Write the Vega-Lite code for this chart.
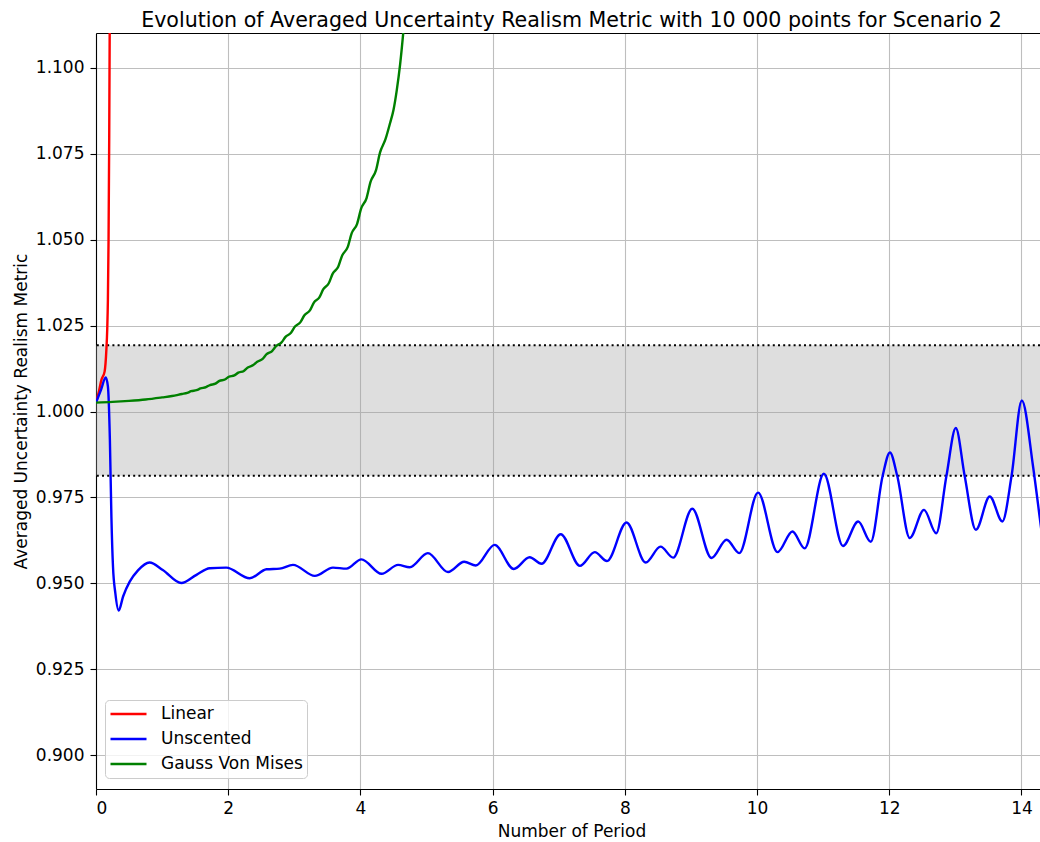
{
  "$schema": "https://vega.github.io/schema/vega-lite/v6.json",
  "width": 944,
  "height": 756,
  "autosize": {"type": "none"},
  "padding": {"left": 96, "top": 33, "right": 0, "bottom": 53},
  "background": "white",
  "config": {
    "font": "DejaVu Sans",
    "view": {"stroke": null},
    "axis": {
      "labelFont": "DejaVu Sans", "labelFontSize": 17, "labelColor": "black",
      "titleFont": "DejaVu Sans", "titleFontSize": 17, "titleFontWeight": "normal", "titleColor": "black",
      "domainColor": "black", "domainWidth": 1.1,
      "tickColor": "black", "tickWidth": 1.1, "tickSize": 6,
      "gridColor": "#bebebe", "gridWidth": 1.1, "gridOpacity": 1
    },
    "legend": {"labelFont": "DejaVu Sans"}
  },
  "title": {
    "text": "Evolution of Averaged Uncertainty Realism Metric with 10 000 points for Scenario 2",
    "font": "DejaVu Sans", "fontSize": 20.6, "fontWeight": "normal", "color": "black",
    "anchor": "middle", "baseline": "alphabetic", "offset": 9, "dx": 3.5, "dy": 24
  },
  "datasets": {
    "band": [{"lo": 0.9813, "hi": 1.0193}],
    "curves": [
      {"s": "Linear", "t": 0, "v": 1.0026},
      {"s": "Linear", "t": 0.04, "v": 1.0055},
      {"s": "Linear", "t": 0.082, "v": 1.0092},
      {"s": "Linear", "t": 0.13, "v": 1.0116},
      {"s": "Linear", "t": 0.157, "v": 1.018},
      {"s": "Linear", "t": 0.17, "v": 1.024},
      {"s": "Linear", "t": 0.18, "v": 1.0325},
      {"s": "Linear", "t": 0.19, "v": 1.05},
      {"s": "Linear", "t": 0.2, "v": 1.08},
      {"s": "Linear", "t": 0.207, "v": 1.11},
      {"s": "Linear", "t": 0.215, "v": 1.15},

      {"s": "Unscented", "t": 0, "v": 1.0026},
      {"s": "Unscented", "t": 0.076, "v": 1.0063},
      {"s": "Unscented", "t": 0.147, "v": 1.0099},
      {"s": "Unscented", "t": 0.18, "v": 1.0073},
      {"s": "Unscented", "t": 0.21, "v": 0.9918},
      {"s": "Unscented", "t": 0.233, "v": 0.9694},
      {"s": "Unscented", "t": 0.257, "v": 0.9549},
      {"s": "Unscented", "t": 0.293, "v": 0.9471},
      {"s": "Unscented", "t": 0.343, "v": 0.9421},
      {"s": "Unscented", "t": 0.41, "v": 0.9462},
      {"s": "Unscented", "t": 0.51, "v": 0.9505},
      {"s": "Unscented", "t": 0.635, "v": 0.9538},
      {"s": "Unscented", "t": 0.81, "v": 0.9561},
      {"s": "Unscented", "t": 1.01, "v": 0.9539},
      {"s": "Unscented", "t": 1.29, "v": 0.9501},
      {"s": "Unscented", "t": 1.52, "v": 0.9525},
      {"s": "Unscented", "t": 1.72, "v": 0.9544},
      {"s": "Unscented", "t": 1.97, "v": 0.9546},
      {"s": "Unscented", "t": 2.325, "v": 0.9515},
      {"s": "Unscented", "t": 2.58, "v": 0.9541},
      {"s": "Unscented", "t": 2.78, "v": 0.9543},
      {"s": "Unscented", "t": 2.98, "v": 0.9554},
      {"s": "Unscented", "t": 3.31, "v": 0.9522},
      {"s": "Unscented", "t": 3.585, "v": 0.9546},
      {"s": "Unscented", "t": 3.79, "v": 0.9543},
      {"s": "Unscented", "t": 4.015, "v": 0.957},
      {"s": "Unscented", "t": 4.32, "v": 0.9528},
      {"s": "Unscented", "t": 4.57, "v": 0.9554},
      {"s": "Unscented", "t": 4.745, "v": 0.9547},
      {"s": "Unscented", "t": 5.02, "v": 0.9588},
      {"s": "Unscented", "t": 5.325, "v": 0.9533},
      {"s": "Unscented", "t": 5.57, "v": 0.9563},
      {"s": "Unscented", "t": 5.745, "v": 0.9552},
      {"s": "Unscented", "t": 6.03, "v": 0.9612},
      {"s": "Unscented", "t": 6.32, "v": 0.9542},
      {"s": "Unscented", "t": 6.56, "v": 0.9576},
      {"s": "Unscented", "t": 6.74, "v": 0.9557},
      {"s": "Unscented", "t": 7.03, "v": 0.9643},
      {"s": "Unscented", "t": 7.32, "v": 0.9551},
      {"s": "Unscented", "t": 7.545, "v": 0.9591},
      {"s": "Unscented", "t": 7.73, "v": 0.9565},
      {"s": "Unscented", "t": 8.025, "v": 0.9677},
      {"s": "Unscented", "t": 8.315, "v": 0.9561},
      {"s": "Unscented", "t": 8.54, "v": 0.9607},
      {"s": "Unscented", "t": 8.73, "v": 0.9575},
      {"s": "Unscented", "t": 9.02, "v": 0.9717},
      {"s": "Unscented", "t": 9.31, "v": 0.9574},
      {"s": "Unscented", "t": 9.54, "v": 0.9627},
      {"s": "Unscented", "t": 9.73, "v": 0.9588},
      {"s": "Unscented", "t": 10.015, "v": 0.9764},
      {"s": "Unscented", "t": 10.31, "v": 0.9591},
      {"s": "Unscented", "t": 10.535, "v": 0.9651},
      {"s": "Unscented", "t": 10.72, "v": 0.9602},
      {"s": "Unscented", "t": 11.01, "v": 0.9819},
      {"s": "Unscented", "t": 11.3, "v": 0.9609},
      {"s": "Unscented", "t": 11.53, "v": 0.968},
      {"s": "Unscented", "t": 11.72, "v": 0.9621},
      {"s": "Unscented", "t": 11.9, "v": 0.9813},
      {"s": "Unscented", "t": 12.01, "v": 0.9881},
      {"s": "Unscented", "t": 12.12, "v": 0.9813},
      {"s": "Unscented", "t": 12.31, "v": 0.9632},
      {"s": "Unscented", "t": 12.525, "v": 0.9714},
      {"s": "Unscented", "t": 12.71, "v": 0.9646},
      {"s": "Unscented", "t": 12.865, "v": 0.9813},
      {"s": "Unscented", "t": 13.006, "v": 0.9952},
      {"s": "Unscented", "t": 13.14, "v": 0.9813},
      {"s": "Unscented", "t": 13.31, "v": 0.9656},
      {"s": "Unscented", "t": 13.52, "v": 0.9753},
      {"s": "Unscented", "t": 13.71, "v": 0.968},
      {"s": "Unscented", "t": 13.85, "v": 0.9813},
      {"s": "Unscented", "t": 14.005, "v": 1.0032},
      {"s": "Unscented", "t": 14.175, "v": 0.984},
      {"s": "Unscented", "t": 14.277, "v": 0.969},
      {"s": "Unscented", "t": 14.35, "v": 0.958},

      {"s": "Gauss Von Mises", "t": 0, "v": 1.0026},
      {"s": "Gauss Von Mises", "t": 0.25, "v": 1.0028},
      {"s": "Gauss Von Mises", "t": 0.5, "v": 1.0031},
      {"s": "Gauss Von Mises", "t": 0.75, "v": 1.0035},
      {"s": "Gauss Von Mises", "t": 1.0, "v": 1.0041},
      {"s": "Gauss Von Mises", "t": 1.15, "v": 1.0045},
      {"s": "Gauss Von Mises", "t": 1.3, "v": 1.0051},
      {"s": "Gauss Von Mises", "t": 1.38, "v": 1.0054},
      {"s": "Gauss Von Mises", "t": 1.439, "v": 1.0059},
      {"s": "Gauss Von Mises", "t": 1.521, "v": 1.0062},
      {"s": "Gauss Von Mises", "t": 1.581, "v": 1.0067},
      {"s": "Gauss Von Mises", "t": 1.664, "v": 1.0071},
      {"s": "Gauss Von Mises", "t": 1.724, "v": 1.0077},
      {"s": "Gauss Von Mises", "t": 1.807, "v": 1.0081},
      {"s": "Gauss Von Mises", "t": 1.867, "v": 1.0089},
      {"s": "Gauss Von Mises", "t": 1.95, "v": 1.0093},
      {"s": "Gauss Von Mises", "t": 2.01, "v": 1.0101},
      {"s": "Gauss Von Mises", "t": 2.093, "v": 1.0105},
      {"s": "Gauss Von Mises", "t": 2.153, "v": 1.0113},
      {"s": "Gauss Von Mises", "t": 2.236, "v": 1.0118},
      {"s": "Gauss Von Mises", "t": 2.296, "v": 1.0128},
      {"s": "Gauss Von Mises", "t": 2.379, "v": 1.0135},
      {"s": "Gauss Von Mises", "t": 2.439, "v": 1.0145},
      {"s": "Gauss Von Mises", "t": 2.521, "v": 1.0153},
      {"s": "Gauss Von Mises", "t": 2.581, "v": 1.0167},
      {"s": "Gauss Von Mises", "t": 2.664, "v": 1.0176},
      {"s": "Gauss Von Mises", "t": 2.724, "v": 1.019},
      {"s": "Gauss Von Mises", "t": 2.807, "v": 1.0201},
      {"s": "Gauss Von Mises", "t": 2.867, "v": 1.0217},
      {"s": "Gauss Von Mises", "t": 2.95, "v": 1.0229},
      {"s": "Gauss Von Mises", "t": 3.01, "v": 1.0247},
      {"s": "Gauss Von Mises", "t": 3.093, "v": 1.026},
      {"s": "Gauss Von Mises", "t": 3.153, "v": 1.028},
      {"s": "Gauss Von Mises", "t": 3.236, "v": 1.0294},
      {"s": "Gauss Von Mises", "t": 3.296, "v": 1.0317},
      {"s": "Gauss Von Mises", "t": 3.379, "v": 1.0332},
      {"s": "Gauss Von Mises", "t": 3.439, "v": 1.0356},
      {"s": "Gauss Von Mises", "t": 3.521, "v": 1.0373},
      {"s": "Gauss Von Mises", "t": 3.581, "v": 1.0401},
      {"s": "Gauss Von Mises", "t": 3.664, "v": 1.0421},
      {"s": "Gauss Von Mises", "t": 3.724, "v": 1.0454},
      {"s": "Gauss Von Mises", "t": 3.807, "v": 1.0478},
      {"s": "Gauss Von Mises", "t": 3.867, "v": 1.0518},
      {"s": "Gauss Von Mises", "t": 3.95, "v": 1.0546},
      {"s": "Gauss Von Mises", "t": 4.01, "v": 1.059},
      {"s": "Gauss Von Mises", "t": 4.093, "v": 1.0621},
      {"s": "Gauss Von Mises", "t": 4.153, "v": 1.0668},
      {"s": "Gauss Von Mises", "t": 4.236, "v": 1.0702},
      {"s": "Gauss Von Mises", "t": 4.296, "v": 1.0753},
      {"s": "Gauss Von Mises", "t": 4.379, "v": 1.0792},
      {"s": "Gauss Von Mises", "t": 4.45, "v": 1.084},
      {"s": "Gauss Von Mises", "t": 4.5, "v": 1.0877},
      {"s": "Gauss Von Mises", "t": 4.55, "v": 1.0935},
      {"s": "Gauss Von Mises", "t": 4.6, "v": 1.1009},
      {"s": "Gauss Von Mises", "t": 4.65, "v": 1.1106},
      {"s": "Gauss Von Mises", "t": 4.7, "v": 1.122}
    ]
  },
  "resolve": {"axis": {"x": "independent"}},
  "layer": [
    {
      "data": {"name": "band"},
      "mark": {"type": "rect", "fill": "#a0a0a0", "opacity": 0.35},
      "encoding": {
        "x": {"datum": 0, "type": "quantitative", "scale": {"domain": [0, 14.28], "nice": false, "zero": false},
              "axis": {"orient": "top", "labels": false, "ticks": false, "grid": false, "domain": true, "title": null}},
        "x2": {"datum": 14.28},
        "y": {"field": "lo", "type": "quantitative", "title": "Averaged Uncertainty Realism Metric",
              "scale": {"domain": [0.8902, 1.1101], "nice": false, "zero": false}},
        "y2": {"field": "hi"}
      }
    },
    {
      "data": {"name": "band"},
      "mark": {"type": "rule", "color": "black", "strokeWidth": 2, "strokeDash": [2, 3.2]},
      "encoding": {
        "y": {"field": "lo", "type": "quantitative", "title": "Averaged Uncertainty Realism Metric",
              "scale": {"domain": [0.8902, 1.1101], "nice": false, "zero": false}}
      }
    },
    {
      "data": {"name": "band"},
      "mark": {"type": "rule", "color": "black", "strokeWidth": 2, "strokeDash": [2, 3.2]},
      "encoding": {
        "y": {"field": "hi", "type": "quantitative", "title": "Averaged Uncertainty Realism Metric",
              "scale": {"domain": [0.8902, 1.1101], "nice": false, "zero": false}}
      }
    },
    {
      "data": {"name": "curves"},
      "mark": {"type": "line", "interpolate": "monotone", "strokeWidth": 2.4, "clip": true},
      "encoding": {
        "x": {"field": "t", "type": "quantitative", "title": "Number of Period",
              "scale": {"domain": [0, 14.28], "nice": false, "zero": false},
              "axis": {"values": [0, 2, 4, 6, 8, 10, 12, 14], "format": "d", "grid": true, "labelPadding": 5, "titlePadding": 7, "titleX": 475.5}},
        "y": {"field": "v", "type": "quantitative", "title": "Averaged Uncertainty Realism Metric",
              "scale": {"domain": [0.8902, 1.1101], "nice": false, "zero": false},
              "axis": {"values": [0.9, 0.925, 0.95, 0.975, 1.0, 1.025, 1.05, 1.075, 1.1], "format": ".3f", "grid": true, "labelPadding": 6, "titlePadding": 5}},
        "color": {"field": "s", "type": "nominal",
                  "scale": {"domain": ["Linear", "Unscented", "Gauss Von Mises"], "range": ["#ff0000", "#0000ff", "#008000"]},
                  "legend": {"orient": "none", "legendX": 9, "legendY": 667, "title": null,
                             "symbolType": "stroke", "symbolSize": 1296, "symbolStrokeWidth": 2.4,
                             "clipHeight": 20, "rowPadding": 5, "padding": 4,
                             "labelFontSize": 17, "labelColor": "black", "labelOffset": 13,
                             "fillColor": "rgba(255,255,255,0.8)", "strokeColor": "#cccccc", "cornerRadius": 4}},
        "order": {"field": "t", "type": "quantitative"}
      }
    }
  ]
}
